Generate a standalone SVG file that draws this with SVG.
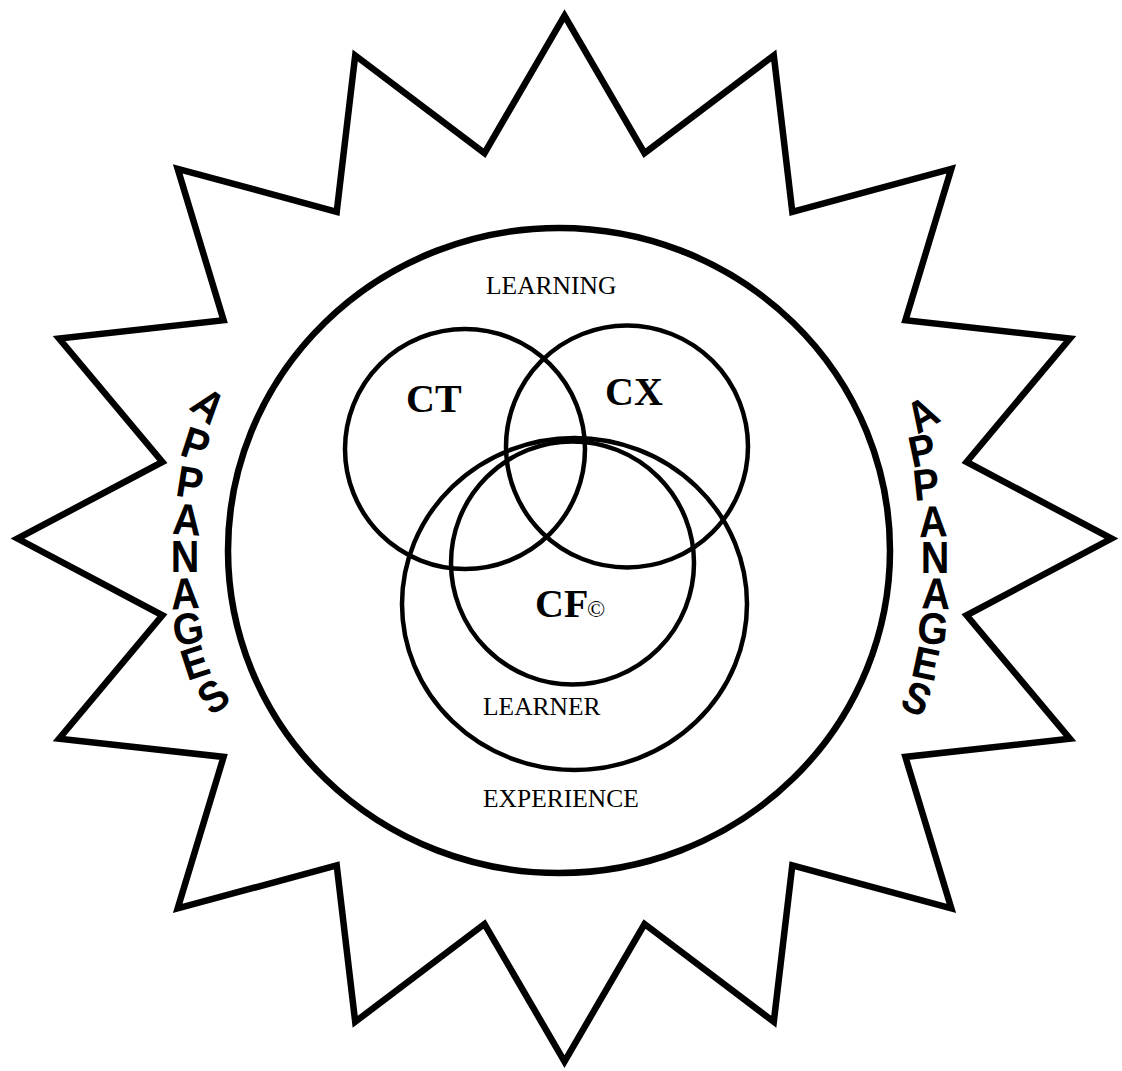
<svg xmlns="http://www.w3.org/2000/svg" width="1122" height="1071" viewBox="0 0 1122 1071">
<style>
.ln{fill:none;stroke:#000;stroke-width:4.5}
.thick{fill:none;stroke:#000;stroke-width:6.5}
.lbl{font-family:"Liberation Serif","Times New Roman",serif;font-size:25.5px;fill:#000}
.big{font-family:"Liberation Serif","Times New Roman",serif;font-size:40px;font-weight:bold;fill:#000}
.ap{font-family:"Liberation Sans",Arial,sans-serif;font-size:44px;font-weight:bold;fill:#000;text-anchor:middle}
</style>
<rect width="1122" height="1071" fill="#fff"/>
<g id="star">
<polygon class="thick" stroke-linejoin="miter" points="564.5,15.6 644.5,153.2 773.8,55.4 792.3,211.8 951.3,168.8 905.4,320.3 1069.9,338.5 966.6,461.9 1111.5,538.6 966.6,615.3 1069.9,738.7 905.4,756.9 951.3,908.4 792.3,865.4 773.8,1021.8 644.5,924 564.5,1061.6 484.5,924 355.2,1021.8 336.7,865.4 177.7,908.4 223.6,756.9 59.1,738.7 162.4,615.3 17.5,538.6 162.4,461.9 59.1,338.5 223.6,320.3 177.7,168.8 336.7,211.8 355.2,55.4 484.5,153.2"/>
</g>
<g id="learning">
<ellipse class="thick" cx="559" cy="550.5" rx="331" ry="322.5"/>
<text class="lbl" x="486" y="294">LEARNING</text>
</g>
<g id="ct">
<circle class="ln" cx="465" cy="449" r="120"/>
<text class="big" x="406" y="412">CT</text>
</g>
<g id="cx">
<circle class="ln" cx="627" cy="446.5" r="121"/>
<text class="big" x="605" y="405">CX</text>
</g>
<g id="experience">
<ellipse class="ln" cx="574.5" cy="604" rx="172.5" ry="166"/>
<text class="lbl" x="483" y="807">EXPERIENCE</text>
</g>
<g id="learner">
<circle class="ln" cx="572.5" cy="563" r="121.5"/>
<text class="lbl" x="483" y="715">LEARNER</text>
</g>
<g id="cf">
<text class="big" x="535" y="617">CF</text>
<text x="587" y="617" style="font-family:'Liberation Serif','Times New Roman',serif;font-size:24px;fill:#000">©</text>
</g>
<g id="appanages-left">
<text class="ap" transform="translate(209,405) rotate(38) scale(0.9,1)" y="15.7">A</text>
<text class="ap" transform="translate(196,444) rotate(18) scale(0.9,1)" y="15.7">P</text>
<text class="ap" transform="translate(190,482) rotate(9) scale(0.9,1)" y="15.7">P</text>
<text class="ap" transform="translate(187,519) rotate(4) scale(0.9,1)" y="15.7">A</text>
<text class="ap" transform="translate(185,556) rotate(0) scale(0.9,1)" y="15.7">N</text>
<text class="ap" transform="translate(185,593) rotate(-3) scale(0.9,1)" y="15.7">A</text>
<text class="ap" transform="translate(188,628) rotate(-9) scale(0.9,1)" y="15.7">G</text>
<text class="ap" transform="translate(195,662) rotate(-18) scale(0.9,1)" y="15.7">E</text>
<text class="ap" transform="translate(213,696) rotate(-36) scale(0.9,1)" y="15.7">S</text>
</g>
<g id="appanages-right">
<text class="ap" transform="translate(922,414) rotate(-30) scale(0.9,1)" y="15.7">A</text>
<text class="ap" transform="translate(922,450) rotate(-12) scale(0.9,1)" y="15.7">P</text>
<text class="ap" transform="translate(926,484) rotate(-6) scale(0.9,1)" y="15.7">P</text>
<text class="ap" transform="translate(933,521) rotate(-2) scale(0.9,1)" y="15.7">A</text>
<text class="ap" transform="translate(935,557) rotate(0) scale(0.9,1)" y="15.7">N</text>
<text class="ap" transform="translate(936,593) rotate(2) scale(0.9,1)" y="15.7">A</text>
<text class="ap" transform="translate(933,628) rotate(6) scale(0.9,1)" y="15.7">G</text>
<text class="ap" transform="translate(926,663) rotate(12) scale(0.9,1)" y="15.7">E</text>
<text class="ap" transform="translate(917,698) rotate(24) scale(0.9,1)" y="15.7">S</text>
</g>
<g id="connectors"/>
</svg>
